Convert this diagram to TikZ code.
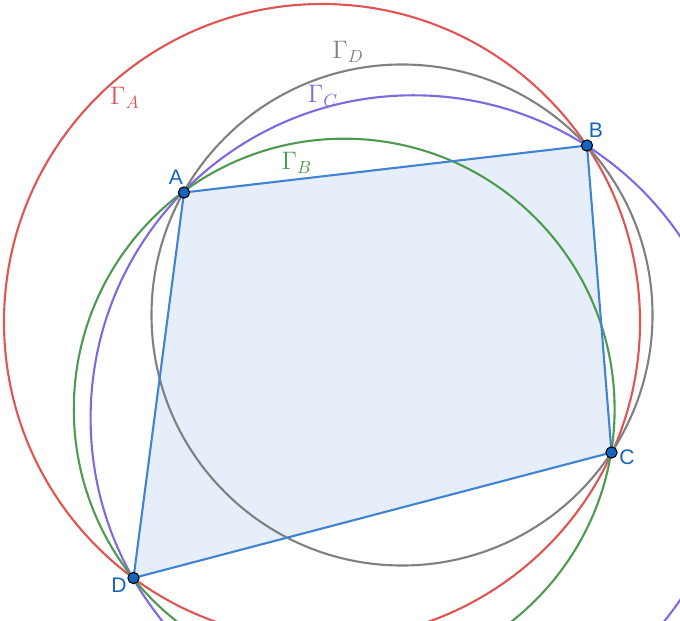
\documentclass[tikz,border=0pt]{standalone}
\usepackage{fontspec}
\newfontfamily\ptfont{Liberation Sans}
\usepackage{tikz}
\usetikzlibrary{calc,positioning}
\definecolor{GamRed}{HTML}{E05552}
\definecolor{GamGray}{HTML}{808080}
\definecolor{GamPurple}{HTML}{8069E0}
\definecolor{GamGreen}{HTML}{4E9A50}
\definecolor{QuadBlue}{HTML}{3F83D2}
\definecolor{QuadFill}{HTML}{E6EFF9}
\definecolor{PtBlue}{HTML}{1565C0}

\begin{document}
\begin{tikzpicture}[x=0.02cm,y=-0.02cm,
    circ/.style={line width=1.2pt},
    pt/.style={circle,draw=black,fill=PtBlue,line width=0.6pt,inner sep=0pt,minimum size=6.4pt},
    ptlbl/.style={text=PtBlue,font=\ptfont\large},
    gam/.style={font=\Large}]
        \clip (0,0) rectangle (680,621);

        % vertices of the quadrilateral
        \coordinate (A) at (184,192.5);
        \coordinate (B) at (587,145.5);
        \coordinate (C) at (611.5,452.5);
        \coordinate (D) at (133.5,578);

        \fill[QuadFill] (A) -- (B) -- (C) -- (D) -- cycle;

        % circumcircles
        \draw[circ, GamRed] (322,322) circle (318);
        \draw[circ, GamGray] (402,315) circle (250.5);
        \draw[circ, GamPurple] (413.4,418.1) circle (322.8);
        \draw[circ, GamGreen] (344.2,409.1) circle (270.4);

        \draw[QuadBlue, line width=1.2pt] (A) -- (B) -- (C) -- (D) -- cycle;

        \foreach \p in {A,B,C,D} {
            \node[pt] (dot\p) at (\p) {};
        }

        \node[ptlbl] (lblA) at (176,177) {A};
        \node[ptlbl] (lblB) at (596,130) {B};
        \node[ptlbl] (lblC) at (627,457) {C};
        \node[ptlbl] (lblD) at (119,585) {D};

        \node[gam, text=GamRed] (gamA) at (125,98) {$\Gamma_A$};
        \node[gam, text=GamGray] (gamD) at (348,52) {$\Gamma_D$};
        \node[gam, text=GamPurple] (gamC) at (323,96) {$\Gamma_C$};
        \node[gam, text=GamGreen] (gamB) at (297,163) {$\Gamma_B$};
    \end{tikzpicture}
\end{document}
